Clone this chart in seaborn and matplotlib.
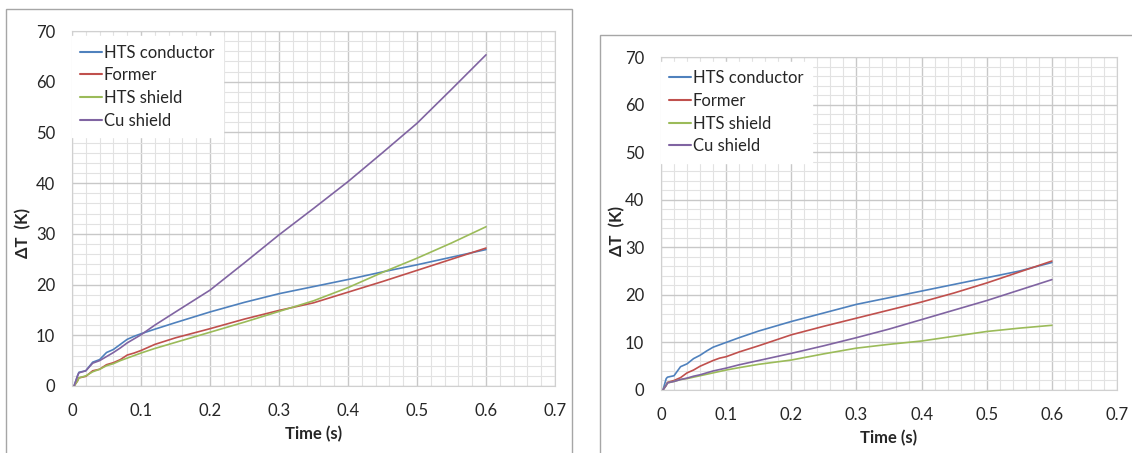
import matplotlib
matplotlib.use("Agg")
import matplotlib.pyplot as plt
import seaborn as sns
import pandas as pd
import numpy as np
from matplotlib.patches import Rectangle
from matplotlib.ticker import MultipleLocator

# ---------------- data ----------------
time_s = [0.003, 0.008, 0.01, 0.02, 0.03, 0.04, 0.05, 0.06, 0.07, 0.08, 0.09, 0.10,
          0.12, 0.15, 0.20, 0.25, 0.30, 0.35, 0.40, 0.45, 0.50, 0.55, 0.60]

series_names = ["HTS conductor", "Former", "HTS shield", "Cu shield"]

# left panel
left_hts_conductor = [0, 2.0, 2.7, 3.0, 4.7, 5.2, 6.6, 7.2, 8.2, 9.2, 9.8, 10.3,
                      11.2, 12.5, 14.6, 16.5, 18.2, 19.6, 21.0, 22.5, 23.9, 25.4, 26.9]
left_former = [0, 1.0, 1.6, 1.9, 3.0, 3.3, 4.2, 4.6, 5.2, 6.1, 6.5, 7.0,
               8.2, 9.5, 11.3, 13.2, 14.9, 16.4, 18.5, 20.6, 22.8, 25.0, 27.2]
left_hts_shield = [0, 1.0, 1.6, 2.0, 2.8, 3.3, 4.0, 4.4, 5.0, 5.5, 6.0, 6.5,
                   7.4, 8.6, 10.6, 12.6, 14.7, 16.8, 19.4, 22.4, 25.2, 28.2, 31.4]
left_cu_shield = [0, 2.0, 2.6, 3.0, 4.5, 5.0, 5.8, 6.6, 7.5, 8.5, 9.3, 10.1,
                  12.0, 14.6, 18.9, 24.3, 29.8, 35.0, 40.3, 46.0, 51.8, 58.5, 65.3]

# right panel
right_hts_conductor = [0, 2.4, 2.7, 3.0, 4.9, 5.5, 6.6, 7.3, 8.2, 9.0, 9.5, 10.0,
                       11.0, 12.4, 14.4, 16.2, 18.0, 19.4, 20.8, 22.2, 23.6, 25.0, 26.8]
right_former = [0, 1.0, 1.6, 2.0, 2.6, 3.6, 4.2, 5.0, 5.6, 6.2, 6.7, 7.0,
                8.0, 9.3, 11.6, 13.4, 15.1, 16.8, 18.5, 20.4, 22.5, 24.8, 27.1]
right_hts_shield = [0, 1.0, 1.5, 1.8, 2.2, 2.4, 2.7, 3.0, 3.3, 3.6, 3.9, 4.2,
                    4.7, 5.4, 6.3, 7.6, 8.8, 9.6, 10.3, 11.3, 12.3, 13.0, 13.6]
right_cu_shield = [0, 1.0, 1.5, 1.8, 2.2, 2.5, 2.9, 3.2, 3.6, 4.0, 4.3, 4.6,
                   5.3, 6.2, 7.7, 9.3, 11.0, 12.8, 14.8, 16.8, 18.8, 21.0, 23.2]

x_ticks = [0, 0.1, 0.2, 0.3, 0.4, 0.5, 0.6, 0.7]
x_tick_labels = ["0", "0.1", "0.2", "0.3", "0.4", "0.5", "0.6", "0.7"]
y_ticks = [0, 10, 20, 30, 40, 50, 60, 70]

colors = {"HTS conductor": "#4F81BD", "Former": "#C0504D",
          "HTS shield": "#9BBB59", "Cu shield": "#8064A2"}


def make_df(vals):
    rows = []
    for name, v in zip(series_names, vals):
        for t, y in zip(time_s, v):
            rows.append({"Time": t, "dT": y, "Series": name})
    return pd.DataFrame(rows)


df_left = make_df([left_hts_conductor, left_former, left_hts_shield, left_cu_shield])
df_right = make_df([right_hts_conductor, right_former, right_hts_shield, right_cu_shield])

# ---------------- figure ----------------
sns.set_theme(style="white")
plt.rcParams["font.family"] = ["Lato", "DejaVu Sans"]

W, H = 1132, 453
fig = plt.figure(figsize=(W / 100, H / 100), dpi=100)


def px_axes(x0, y0, x1, y1):
    return fig.add_axes([x0 / W, 1 - y1 / H, (x1 - x0) / W, (y1 - y0) / H])


# panel frames
fig.patches.append(Rectangle((6 / W, -0.1), (572 - 6) / W, 1.1 - 9 / H,
                             transform=fig.transFigure, fill=False,
                             edgecolor="#a6a6a6", linewidth=1.0))
fig.patches.append(Rectangle((600 / W, -0.1), 1.2, 1.1 - 35 / H,
                             transform=fig.transFigure, fill=False,
                             edgecolor="#a6a6a6", linewidth=1.0))

axes = [px_axes(72, 31, 555, 386), px_axes(661, 57, 1117, 390)]
dfs = [df_left, df_right]
ylabel_pos = [(-0.084, 0.43), (-0.079, 0.477)]

for ax, df, ylp in zip(axes, dfs, ylabel_pos):
    sns.lineplot(data=df, x="Time", y="dT", hue="Series", palette=colors,
                 hue_order=series_names, ax=ax, linewidth=1.2, estimator=None,
                 sort=False)
    ax.set_xlim(0, 0.7)
    ax.set_ylim(0, 70)
    ax.set_xticks(x_ticks)
    ax.set_xticklabels(x_tick_labels)
    ax.set_yticks(y_ticks)
    ax.xaxis.set_minor_locator(MultipleLocator(0.02))
    ax.yaxis.set_minor_locator(MultipleLocator(2))
    ax.grid(which="major", color="#c8c8c8", linewidth=1.0)
    ax.grid(which="minor", color="#e2e2e2", linewidth=0.8)
    ax.set_axisbelow(True)
    ax.tick_params(which="both", length=0, labelsize=12, labelcolor="#262626",
                   pad=12)
    ax.tick_params(axis="y", pad=12)
    for s in ax.spines.values():
        s.set_color("#d0d0d0")
        s.set_linewidth(0.8)
    ax.set_xlabel("Time (s)", fontsize=12, fontweight="bold", labelpad=5)
    ax.set_ylabel("ΔT  (K)", fontsize=12, fontweight="bold")
    ax.yaxis.set_label_coords(*ylp)
    leg = ax.legend(loc="upper left", bbox_to_anchor=(0.0, 0.985), frameon=True,
                    fontsize=12, handlelength=1.3, handletextpad=0.1,
                    labelspacing=0.4, borderpad=0.5, fancybox=False,
                    borderaxespad=0.0)
    leg.get_frame().set_edgecolor("white")
    leg.get_frame().set_facecolor("white")
    leg.get_frame().set_alpha(1.0)
    for line in leg.get_lines():
        line.set_linewidth(1.5)

fig.savefig("out.png", dpi=100)
